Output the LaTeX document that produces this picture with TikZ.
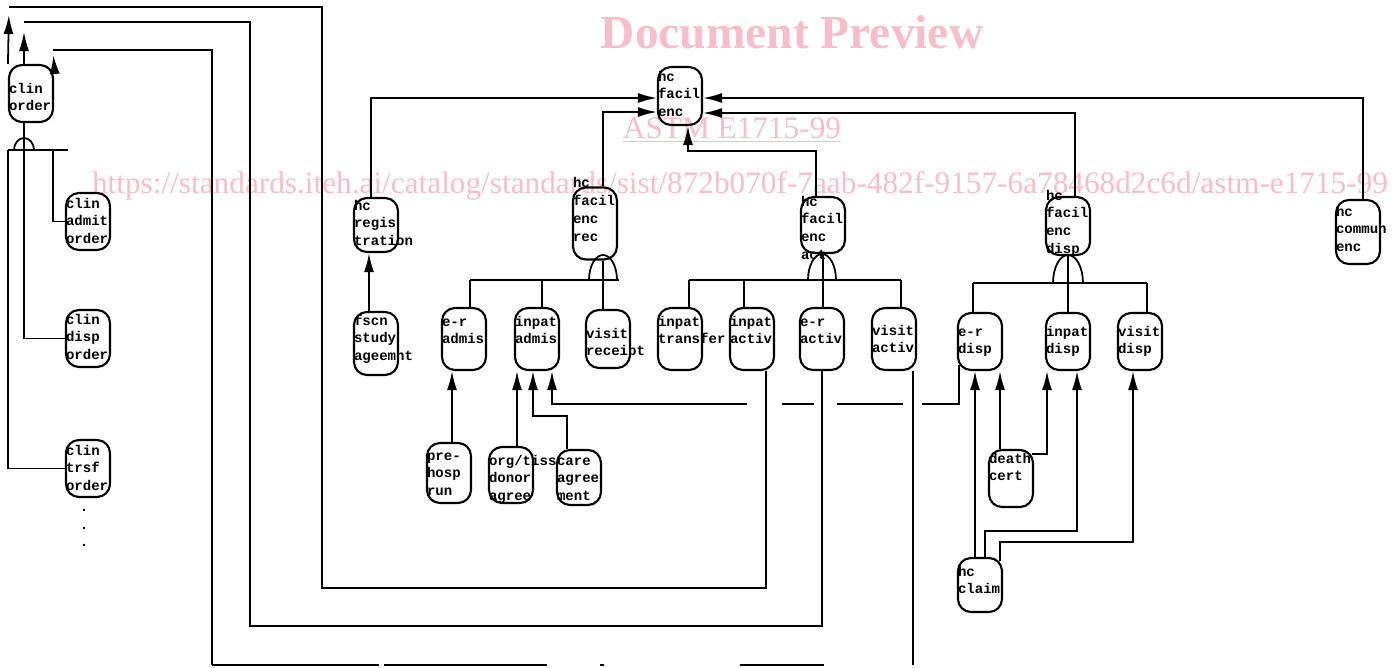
\documentclass[tikz,border=0pt]{standalone}
\usepackage{fontspec}
\setmonofont{Liberation Mono}
\newfontfamily\wmfont{Liberation Serif}
\usetikzlibrary{arrows.meta,calc}
\newcommand\objfont{\fontsize{8}{10.2}\selectfont\ttfamily\bfseries\hyphenpenalty=10000\relax}
\definecolor{wmpink}{RGB}{246,190,202}
\tikzset{
  obj/.style 2 args={draw, line width=1.2pt, rounded corners=0.26cm, inner sep=0pt,
    text width=0.88cm, align=left, font=\objfont, text height=#1, text depth=#2},
  link/.style={line width=1pt},
  fork/.style={line width=1pt},
  hops/.style={dash pattern=on 1.52cm off 0.38cm on 1.32cm off 0.46cm on 0.64cm off 0.7cm on 8cm},
  brokenline/.style={dash pattern=on 3.34cm off 0.1cm on 3.26cm off 1.06cm on 0.08cm off 2.72cm on 1.68cm off 2cm},
  watermark/.style={text=wmpink, inner sep=0pt},
}
\begin{document}
\begin{tikzpicture}[x=0.02cm, y=-0.02cm, >={Latex[length=0.38cm,width=0.2cm]}]
\useasboundingbox (0,0) rectangle (1393,667);
\node[watermark, font={\wmfont\bfseries\fontsize{27}{30}\selectfont}] (wmtitle) at (792,32) {Document Preview};
\node[watermark, font={\wmfont\fontsize{17.8}{20}\selectfont}] (wmstd) at (732,130) {\underline{ASTM E1715-99}};
\node[watermark, font={\wmfont\fontsize{17.8}{20}\selectfont}] (wmurl) at (740,186) {https://standards.iteh.ai/catalog/standards/sist/872b070f-7aab-482f-9157-6a78468d2c6d/astm-e1715-99};

\node[obj={0.56cm}{0.58cm}] (clinorder) at (31,93.5) {clin\\order};
\node[obj={0.30cm}{0.84cm}] (clinadmit) at (88,221.5) {clin\\admit\\order};
\node[obj={0.28cm}{0.86cm}] (clindisp) at (88,338.5) {clin\\disp\\order};
\node[obj={0.30cm}{0.84cm}] (clintrsf) at (88,468.5) {clin\\trsf\\order};
\node[font=\objfont, align=center, inner sep=0pt] (more) at (84,528) {.\\.\\.};

\node[obj={0.28cm}{0.88cm}] (hcfe) at (680,96) {hc\\facil\\enc};
\node[obj={0.24cm}{0.84cm}] (reg) at (376,225) {hc\\regis\\tration};
\node[obj={0.26cm}{1.00cm}] (fscn) at (376,343.5) {fscn\\study\\ageemnt};
\node[obj={-0.30cm}{1.44cm}] (encrec) at (595,223.5) {hc\\facil\\enc\\rec};
\node[obj={0.18cm}{0.94cm}] (encact) at (823,225) {hc\\facil\\enc\\act};
\node[obj={0.06cm}{1.10cm}] (encdisp) at (1068,226) {hc\\facil\\enc\\disp};
\node[obj={0.32cm}{0.96cm}] (commenc) at (1358,232) {hc\\commun\\enc};

\node[obj={0.36cm}{0.88cm}] (erad) at (464,339) {e-r\\admis};
\node[obj={0.36cm}{0.88cm}] (inad) at (537,339) {inpat\\admis};
\node[obj={0.56cm}{0.60cm}] (visrec) at (608,339) {visit\\receipt};
\node[obj={0.36cm}{0.88cm}] (intrans) at (680,339) {inpat\\transfer};
\node[obj={0.36cm}{0.88cm}] (inact) at (752,339) {inpat\\activ};
\node[obj={0.36cm}{0.88cm}] (eract) at (822,339) {e-r\\activ};
\node[obj={0.54cm}{0.70cm}] (visact) at (894,339) {visit\\activ};
\node[obj={0.46cm}{0.68cm}] (erdisp) at (980,341.5) {e-r\\disp};
\node[obj={0.46cm}{0.68cm}] (indisp) at (1068,341.5) {inpat\\disp};
\node[obj={0.46cm}{0.68cm}] (visdisp) at (1140,341.5) {visit\\disp};

\node[obj={0.34cm}{0.86cm}] (prehosp) at (449,473) {pre-\\hosp\\run};
\node[obj={0.36cm}{0.76cm}] (orgdonor) at (511,475) {org/tiss\\donor\\agree};
\node[obj={0.30cm}{0.80cm}] (careagr) at (579,477.5) {care\\agree\\ment};
\node[obj={0.26cm}{0.88cm}] (death) at (1011,478.5) {death\\cert};
\node[obj={0.36cm}{0.72cm}] (claim) at (980,585) {hc\\claim};

\coordinate (topa) at (9,7);
\coordinate (topb) at (24,22);
\coordinate (topc) at (53,50);
\coordinate (bota) at (322,588);
\coordinate (botb) at (250,626);
\coordinate (botc) at (212,665);
\coordinate (botd) at (913,665);
\coordinate (ordfork) at (24,150);
\coordinate (ordl) at (8,150);
\coordinate (ordr) at (68,150);
\coordinate (recfork) at (603,280);
\coordinate (recl) at (470,280);
\coordinate (recr) at (619,280);
\coordinate (actfork) at (822,280);
\coordinate (actl) at (689,280);
\coordinate (actr) at (901,280);
\coordinate (dispfork) at (1068,283);
\coordinate (displ) at (973,283);
\coordinate (dispr) at (1147,283);

\draw[fork] (ordl) -- (ordr);
\draw[fork] ($(ordfork)+(-10,0)$) arc[start angle=180, end angle=0, x radius=0.2cm, y radius=0.24cm];
\draw[fork] (ordl) |- (clintrsf.west);
\draw[fork] ($(ordl)+(45,0)$) |- (clinadmit.west);
\draw[fork] ($(clinorder.south)+(-7,0)$) |- (clindisp.west);

\draw[->, link, shorten >=0.16cm] (clinorder.north west) -- (topa);
\draw[link] (topa) -| (bota) -| ($(inact.south)+(14,0)$);
\draw[->, link, shorten >=0.2cm] ($(clinorder.north)+(-7,0)$) -- (topb);
\draw[link] (topb) -| (botb) -| (eract.south);
\draw[->, link, shorten >=0.1cm] (clinorder.north east) -- (topc);
\draw[link] (topc) -| (botc);
\draw[link, brokenline] (botc) -- (botd);
\draw[link] (botd) -- (botd |- visact.south);

\draw[->, link] ($(reg.north)+(-5,0)$) |- ($(hcfe.west)+(0,2)$);
\draw[->, link] ($(encrec.north)+(8,0)$) |- ($(hcfe.west)+(0,16)$);
\draw[->, link] ($(commenc.north)+(5,0)$) |- ($(hcfe.east)+(0,2)$);
\draw[->, link] ($(encdisp.north)+(7,0)$) |- ($(hcfe.east)+(0,17)$);
\draw[->, link] ($(encact.north)+(-7,0)$) -- ++(0,-45) -| ($(hcfe.south)+(8,0)$);
\draw[->, link] ($(fscn.north)+(-7,0)$) coordinate (t) -- (t |- reg.south);

\draw[fork] (recl) -- (recr);
\draw[fork] ($(recfork)+(-14,0)$) arc[start angle=180, end angle=0, x radius=0.28cm, y radius=0.5cm];
\draw[fork] (recl) -- (recl |- erad.north);
\draw[fork] ($(inad.north)+(5,0)$) coordinate (t) -- (t |- recl);
\draw[fork] ($(encrec.south)+(8,0)$) coordinate (t) -- (t |- visrec.north);

\draw[fork] (actl) -- (actr);
\draw[fork] ($(actfork)+(-14,0)$) arc[start angle=180, end angle=0, x radius=0.28cm, y radius=0.52cm];
\draw[fork] (actl) -- (actl |- intrans.north);
\draw[fork] ($(inact.north)+(-8,0)$) coordinate (t) -- (t |- actl);
\draw[fork] (encact.south) -- (encact.south |- eract.north);
\draw[fork] (actr) -- (actr |- visact.north);

\draw[fork] (displ) -- (dispr);
\draw[fork] ($(dispfork)+(-15,0)$) arc[start angle=180, end angle=0, x radius=0.3cm, y radius=0.56cm];
\draw[fork] (displ) -- (displ |- erdisp.north);
\draw[fork] (encdisp.south) -- (encdisp.south |- indisp.north);
\draw[fork] (dispr) -- (dispr |- visdisp.north);

\draw[->, link] ($(prehosp.north)+(3,0)$) coordinate (t) -- (t |- erad.south);
\draw[->, link] ($(orgdonor.north)+(6,0)$) coordinate (t) -- (t |- inad.south);
\draw[->, link] ($(careagr.north)+(-12,0)$) -- ++(0,-33) -| ($(inad.south)+(-4,0)$);
\draw[->, link, hops] ($(erdisp.south west)+(2,-6)$) -- ++(0,39) -| ($(inad.south)+(15,0)$);

\draw[->, link] ($(death.north)+(-11,0)$) coordinate (t) -- (t |- erdisp.south);
\draw[->, link] ($(death.north east)+(-2,5)$) -| ($(indisp.south)+(-21,0)$);
\draw[->, link] ($(claim.north)+(-5,0)$) coordinate (t) -- (t |- erdisp.south);
\draw[->, link] ($(claim.north)+(5,0)$) -- ++(0,-26) -| ($(indisp.south)+(9,0)$);
\draw[->, link] ($(claim.north east)+(-3,4)$) -- ++(0,-19) -| ($(visdisp.south)+(-7,0)$);
\end{tikzpicture}
\end{document}
